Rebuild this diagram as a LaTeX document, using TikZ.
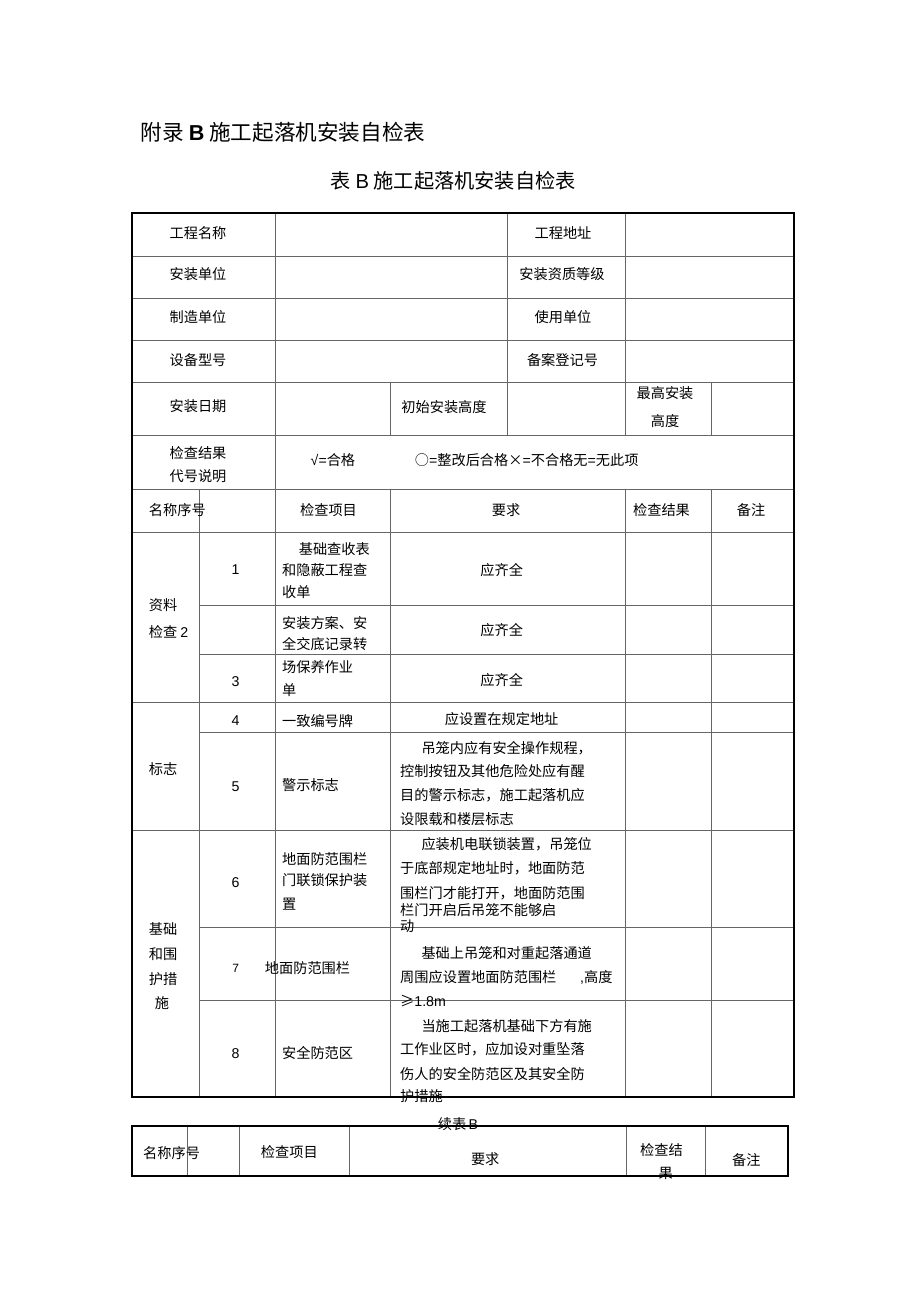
\documentclass[tikz,border=0pt]{standalone}
\usepackage{fontspec}
\setmainfont{Noto Sans CJK SC}
\newfontfamily\lat{Liberation Sans}
\newcommand\TxW[4]{\node[tx,anchor=west] (#1) at (#2,#3) {#4};}
\newcommand\TxC[4]{\node[tx] (#1) at (#2,#3) {#4};}
\begin{document}
\begin{tikzpicture}[x=1pt,y=-1pt,
  tx/.style={inner sep=0pt,yshift=-2pt,font=\fontsize{14.2}{17}\selectfont,text height=0.88em,text depth=0.12em},
  inner/.style={line width=0.9pt,draw=black!60},
  outer/.style={line width=1.7pt,draw=black}]
\useasboundingbox[fill=white] (0,0) rectangle (920,1303);
% titles
\node[inner sep=0pt,anchor=west,font=\fontsize{21.6}{24}\selectfont,text height=0.88em,text depth=0.12em] (title) at (140.7,137) {附录 {\lat\bfseries B} 施工起落机安装自检表};
\node[inner sep=0pt,anchor=west,font=\fontsize{20.2}{23}\selectfont,text height=0.88em,text depth=0.12em] (subtitle) at (330.7,185) {表 {\lat B} 施工起落机安装自检表};
% coordinates
\def\xa{131.7}\def\xb{199.4}\def\xc{275.3}\def\xd{390.4}\def\xe{507.7}\def\xf{625}\def\xg{711}\def\xh{794}
% inner horizontal lines
\foreach \yy in {256,298.3,340.3,382.3,435,489.3,532.3,702.7,830}
  \draw[inner] (\xa,\yy) -- (\xh,\yy);
\foreach \yy in {605.7,654.3,732.3,927.3,1000}
  \draw[inner] (\xb,\yy) -- (\xh,\yy);
% inner vertical lines
\draw[inner] (\xc,213.3) -- (\xc,1096.7);
\draw[inner] (\xe,213.3) -- (\xe,435);
\draw[inner] (\xf,213.3) -- (\xf,435);
\draw[inner] (\xf,489.3) -- (\xf,1096.7);
\draw[inner] (\xd,382.3) -- (\xd,435);
\draw[inner] (\xd,489.3) -- (\xd,1096.7);
\draw[inner] (\xg,382.3) -- (\xg,435);
\draw[inner] (\xg,489.3) -- (\xg,1096.7);
\draw[inner] (\xb,489.3) -- (\xb,1096.7);
\draw[outer] (\xa,213.3) rectangle (\xh,1096.7);
% second table
\foreach \xx in {187.3,239.7,349,626,705}
  \draw[inner] (\xx,1125.7) -- (\xx,1176);
\draw[outer] (131.7,1125.7) rectangle (788,1176);
% rows 1-6
\TxW{l1}{169.4}{233}{工程名称}
\TxW{l2}{169.4}{274}{安装单位}
\TxW{l3}{169.4}{316.7}{制造单位}
\TxW{l4}{169.4}{359.3}{设备型号}
\TxW{l5}{169.4}{406}{安装日期}
\TxW{l6a}{169.4}{452.3}{检查结果}
\TxW{l6b}{169.4}{475.7}{代号说明}
\TxC{m1}{563}{233}{工程地址}
\TxC{m2}{562}{274}{安装资质等级}
\TxC{m3}{563}{316.7}{使用单位}
\TxC{m4}{562.5}{359.3}{备案登记号}
\TxC{m5}{444}{406.7}{初始安装高度}
\TxC{m5a}{665}{392.3}{最高安装}
\TxC{m5b}{665}{421}{高度}
\TxW{code1}{310.5}{460}{{\lat √=}合格}
\TxW{code2}{414.7}{460}{○{\lat =}整改后合格×{\lat =}不合格无{\lat =}无此项}
% header
\TxW{h1}{148.7}{510}{名称序号}
\TxC{h2}{328.5}{510}{检查项目}
\TxC{h3}{506}{510}{要求}
\TxC{h4}{661.5}{510}{检查结果}
\TxC{h5}{751}{510}{备注}
% sections
\TxW{s1a}{148.7}{605}{资料}
\TxW{s1b}{148.7}{631.7}{检查 {\lat 2}}
\TxW{s2}{148.7}{768.3}{标志}
\TxW{s3a}{148.7}{929}{基础}
\TxW{s3b}{148.7}{954}{和围}
\TxW{s3c}{148.7}{979}{护措}
\TxC{s3d}{162}{1002.7}{施}
% numbers
\TxC{n1}{235.6}{569}{\lat 1}
\TxC{n3}{235.6}{680.7}{\lat 3}
\TxC{n4}{235.6}{719.3}{\lat 4}
\TxC{n5}{235.6}{785.7}{\lat 5}
\TxC{n6}{235.6}{881.7}{\lat 6}
\node[tx,font=\fontsize{12}{14}\selectfont] (n7) at (235.6,966.7) {\lat 7};
\TxC{n8}{235.6}{1052.3}{\lat 8}
% items
\TxW{i1a}{298.6}{548.3}{基础查收表}
\TxW{i1b}{281.9}{570}{和隐蔽工程查}
\TxW{i1c}{281.9}{591.7}{收单}
\TxW{i2a}{281.9}{622.3}{安装方案、安}
\TxW{i2b}{281.9}{644}{全交底记录转}
\TxW{i3a}{281.9}{666.7}{场保养作业}
\TxW{i3b}{281.9}{690}{单}
\TxW{i4}{281.9}{720.7}{一致编号牌}
\TxW{i5}{281.9}{785}{警示标志}
\TxW{i6a}{281.9}{859}{地面防范围栏}
\TxW{i6b}{281.9}{880}{门联锁保护装}
\TxW{i6c}{281.9}{903.3}{置}
\TxW{i7}{264.7}{967.3}{地面防范围栏}
\TxW{i8}{281.9}{1052.3}{安全防范区}
% requirements
\TxC{q1}{501.7}{570}{应齐全}
\TxC{q2}{501.7}{630}{应齐全}
\TxC{q3}{501.7}{679.3}{应齐全}
\TxC{q4}{501.6}{719}{应设置在规定地址}
\TxW{q5a}{421.3}{747.3}{吊笼内应有安全操作规程，}
\TxW{q5b}{400}{771}{控制按钮及其他危险处应有醒}
\TxW{q5c}{400}{794.3}{目的警示标志，施工起落机应}
\TxW{q5d}{400}{818.3}{设限载和楼层标志}
\TxW{q6a}{421.3}{844}{应装机电联锁装置，吊笼位}
\TxW{q6b}{400}{867.7}{于底部规定地址时，地面防范}
\TxW{q6c}{400}{892.3}{围栏门才能打开，地面防范围}
\TxW{q6d}{400}{909.3}{栏门开启后吊笼不能够启}
\TxW{q6e}{400}{926}{动}
\TxW{q7a}{421.3}{952.7}{基础上吊笼和对重起落通道}
\TxW{q7b}{400}{976.7}{周围应设置地面防范围栏}
\TxW{q7c}{580}{976.7}{{\lat ,}高度}
\TxW{q7d}{400}{1000.7}{≥{\lat 1.8m}}
\TxW{q8a}{421.3}{1026}{当施工起落机基础下方有施}
\TxW{q8b}{400}{1048.7}{工作业区时，应加设对重坠落}
\TxW{q8c}{400}{1073.3}{伤人的安全防范区及其安全防}
\TxW{q8d}{400}{1096}{护措施}
% continuation
\TxC{cont}{458}{1123.3}{续表{\lat\,B}}
\TxW{k1}{143}{1152.3}{名称序号}
\TxC{k2}{289.3}{1151.7}{检查项目}
\TxC{k3}{485.2}{1159}{要求}
\TxC{k4a}{661.5}{1150}{检查结}
\TxC{k4b}{665.6}{1172.3}{果}
\TxC{k5}{746.4}{1159.3}{备注}
\end{tikzpicture}
\end{document}
